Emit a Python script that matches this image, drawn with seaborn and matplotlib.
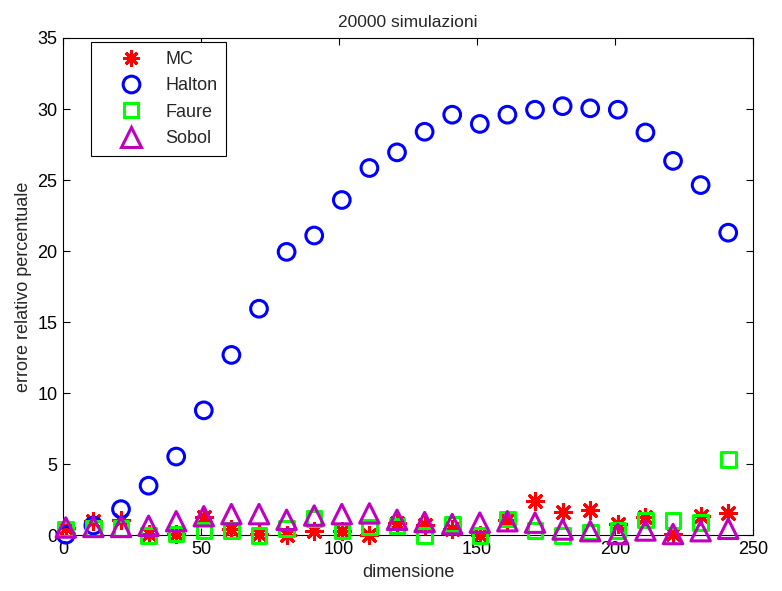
import matplotlib
matplotlib.use("Agg")
import matplotlib.pyplot as plt
from matplotlib.lines import Line2D
import numpy as np
import pandas as pd
import seaborn as sns

# Problem dimension at which each estimator was evaluated
dimensione = [1, 11, 21, 31, 41, 51, 61, 71, 81, 91, 101, 111, 121,
              131, 141, 151, 161, 171, 181, 191, 201, 211, 221, 231, 241]

# Relative percentage error, one list per method
err_mc = [0.55, 1.0, 1.1, 0.1, 0.1, 1.3, 0.45, 0.1, 0.0, 0.3, 0.3, 0.05, 0.85,
          0.7, 0.45, 0.05, 1.1, 2.45, 1.65, 1.8, 0.8, 1.3, 0.1, 1.4, 1.6]
err_halton = [0.05, 0.7, 1.85, 3.5, 5.55, 8.8, 12.7, 15.95, 19.95, 21.1, 23.6,
              25.85, 26.95, 28.4, 29.6, 28.95, 29.6, 29.95, 30.2, 30.05, 29.95,
              28.35, 26.35, 24.65, 21.3]
err_faure = [0.45, 0.5, 0.5, 0.0, 0.1, 0.35, 0.35, 0.0, 0.47, 1.2, 0.3, 0.6,
             0.65, 0.0, 0.8, 0.0, 1.17, 0.35, 0.0, 0.23, 0.35, 1.1, 1.05, 0.9,
             5.35]
err_sobol = [0.56, 0.6, 0.6, 0.68, 1.0, 1.35, 1.5, 1.5, 1.1, 1.4, 1.5, 1.55,
             1.1, 0.94, 0.8, 0.9, 1.0, 0.9, 0.42, 0.3, 0.1, 0.35, 0.1, 0.3,
             0.47]

series_names = ["MC", "Halton", "Faure", "Sobol"]
x_ticks = [0, 50, 100, 150, 200, 250]
y_ticks = [0, 5, 10, 15, 20, 25, 30, 35]

sns.set_style("ticks")
plt.rcParams["font.family"] = ["Liberation Sans", "DejaVu Sans"]
plt.rcParams["xtick.direction"] = "in"
plt.rcParams["ytick.direction"] = "in"

fig = plt.figure(figsize=(7.82, 5.91), dpi=100)
ax = fig.add_axes([0.0806, 0.094, 0.8824, 0.8418])

# (values, marker, marker size in pt, colour, hollow?)
styles = {
    "MC": (err_mc, (8, 2, 0), 11.5, "#FF0000", False),
    "Halton": (err_halton, "o", 12, "#0000FF", True),
    "Faure": (err_faure, "s", 10.5, "#00FF00", True),
    "Sobol": (err_sobol, "^", 14, "#BF00BF", True),
}

handles = []
for name in series_names:
    vals, mk, ms, col, hollow = styles[name]
    df = pd.DataFrame({"dimensione": dimensione, "errore": vals})
    sns.scatterplot(data=df, x="dimensione", y="errore", ax=ax,
                    marker=mk, s=ms ** 2,
                    facecolors="none" if hollow else col,
                    edgecolor=col, linewidth=2.2, clip_on=False,
                    zorder=3, legend=False)
    handles.append(Line2D([], [], linestyle="none", marker=mk,
                          markersize=ms, markerfacecolor="none",
                          color=col, markeredgecolor=col,
                          markeredgewidth=2.2, label=name))

ax.set_xlim(0, 250)
ax.set_ylim(0, 35)
ax.set_xticks(x_ticks)
ax.set_yticks(y_ticks)
ax.tick_params(axis="both", which="both", labelsize=13, length=5,
               width=0.8, top=True, right=True, color="black",
               labelcolor="black", pad=4)
for sp in ax.spines.values():
    sp.set_visible(True)
    sp.set_color("black")
    sp.set_linewidth(0.8)

ax.set_xlabel("dimensione", fontsize=13, labelpad=4)
ax.set_ylabel("errore relativo percentuale", fontsize=13, labelpad=4)
ax.set_title("20000 simulazioni", fontsize=12.5, pad=8)

leg = ax.legend(handles=handles, loc="upper left",
                bbox_to_anchor=(91 / 782, 1 - 42 / 591),
                bbox_transform=fig.transFigure, fontsize=13,
                frameon=True, fancybox=False, framealpha=1,
                edgecolor="black", borderpad=0.5, labelspacing=0.52,
                handletextpad=0.2, borderaxespad=0, handlelength=3.4)
leg.get_frame().set_linewidth(0.8)

fig.savefig("out.png", dpi=100, facecolor="white")
